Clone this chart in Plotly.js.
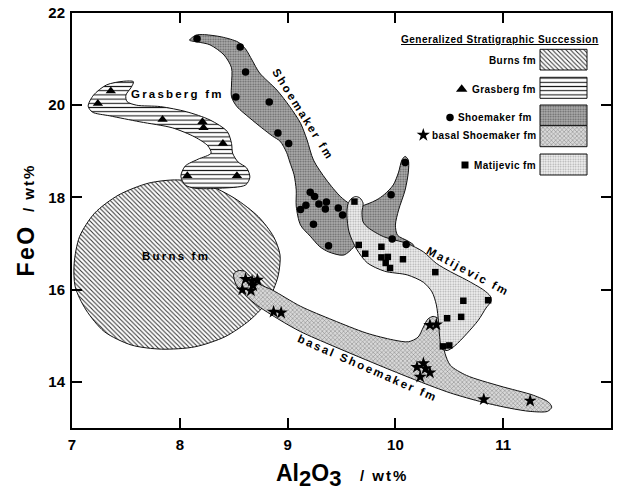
<!DOCTYPE html>
<html><head><meta charset="utf-8">
<script src="https://cdn.plot.ly/plotly-3.0.1.min.js"></script>
<style>html,body{margin:0;padding:0;background:#fff;}#chart{width:618px;height:493px;}</style>
</head><body><div id="chart"></div>
<script>
// ---------------- data (Al2O3 wt%, FeO wt%) ----------------
// field outlines
const burnsX = [7.98, 8.26, 8.51, 8.73, 8.87, 8.93, 8.91, 8.82, 8.65, 8.42, 8.14, 7.83, 7.55, 7.30, 7.13, 7.03, 7.02, 7.07, 7.21, 7.43, 7.71];
const burnsY = [18.38, 18.27, 17.98, 17.58, 17.15, 16.75, 16.28, 15.77, 15.34, 14.98, 14.76, 14.71, 14.80, 15.09, 15.56, 16.06, 16.57, 17.15, 17.66, 18.05, 18.31];

const grasbergX = [7.15, 7.20, 7.32, 7.48, 7.57, 7.55, 7.50, 7.51, 7.60, 7.82, 8.06, 8.28, 8.44, 8.48, 8.49, 8.54, 8.62, 8.65, 8.61, 8.37, 8.14, 8.05, 8.01, 8.05, 8.17, 8.29, 8.26, 8.14, 7.93, 7.63, 7.35, 7.19];
const grasbergY = [19.98, 20.22, 20.44, 20.52, 20.51, 20.39, 20.22, 20.08, 20.00, 19.97, 19.86, 19.68, 19.43, 19.17, 18.96, 18.77, 18.64, 18.44, 18.27, 18.20, 18.20, 18.27, 18.46, 18.68, 18.83, 18.96, 19.12, 19.31, 19.51, 19.64, 19.77, 19.85];

const shoemakerX = [8.11, 8.15, 8.23, 8.39, 8.54, 8.61, 8.67, 8.74, 8.90, 9.02, 9.12, 9.18, 9.24, 9.36, 9.49, 9.58, 9.67, 9.82, 9.90, 9.98, 10.03, 10.06, 10.09, 10.12, 10.12, 10.09, 10.03, 10.00, 10.02, 10.12, 10.17, 10.12, 10.01, 9.86, 9.71, 9.63, 9.52, 9.38, 9.30, 9.21, 9.12, 9.08, 9.08, 9.06, 9.02, 8.99, 8.93, 8.86, 8.76, 8.65, 8.53, 8.48, 8.48, 8.48, 8.41, 8.28, 8.17, 8.09];
const shoemakerY = [21.46, 21.52, 21.53, 21.48, 21.37, 21.22, 20.98, 20.70, 20.33, 19.97, 19.61, 19.25, 18.81, 18.38, 18.02, 17.86, 17.81, 17.94, 18.07, 18.27, 18.55, 18.81, 18.89, 18.81, 18.55, 18.16, 17.73, 17.40, 17.18, 17.05, 16.96, 16.89, 16.92, 17.08, 17.29, 16.97, 16.75, 16.82, 16.93, 17.16, 17.40, 17.81, 18.16, 18.49, 18.77, 18.98, 19.22, 19.33, 19.51, 19.72, 19.97, 20.18, 20.46, 20.81, 21.09, 21.31, 21.37, 21.41];

const matijevicX = [9.63, 9.67, 9.70, 9.69, 9.70, 9.75, 9.89, 10.11, 10.26, 10.38, 10.51, 10.66, 10.82, 10.88, 10.89, 10.84, 10.77, 10.66, 10.55, 10.48, 10.43, 10.41, 10.40, 10.38, 10.34, 10.26, 10.11, 9.90, 9.74, 9.64, 9.57, 9.55, 9.56, 9.59];
const matijevicY = [18.02, 17.99, 17.88, 17.68, 17.47, 17.34, 17.15, 17.00, 16.82, 16.57, 16.39, 16.21, 15.99, 15.86, 15.76, 15.60, 15.34, 15.04, 14.78, 14.68, 14.72, 14.99, 15.30, 15.67, 15.95, 16.16, 16.32, 16.40, 16.58, 16.88, 17.25, 17.62, 17.86, 17.97];

const basalX = [8.50, 8.54, 8.60, 8.65, 8.74, 8.86, 9.12, 9.42, 9.73, 9.98, 10.12, 10.21, 10.26, 10.30, 10.35, 10.40, 10.42, 10.44, 10.46, 10.51, 10.66, 10.97, 11.28, 11.42, 11.45, 11.41, 11.25, 11.06, 10.81, 10.51, 10.21, 9.89, 9.42, 9.12, 8.93, 8.70, 8.58, 8.52];
const basalY = [16.34, 16.41, 16.40, 16.29, 16.12, 15.99, 15.64, 15.34, 15.06, 14.91, 14.87, 14.97, 15.19, 15.36, 15.42, 15.37, 15.21, 14.91, 14.62, 14.36, 14.14, 13.91, 13.71, 13.56, 13.45, 13.36, 13.36, 13.43, 13.56, 13.76, 14.02, 14.32, 14.78, 15.09, 15.34, 15.69, 15.95, 16.12];

// analyses
const grasbergPtsX = [7.36, 7.24, 7.84, 8.21, 8.22, 8.40, 8.07, 8.53];
const grasbergPtsY = [20.31, 20.04, 19.69, 19.64, 19.51, 19.17, 18.47, 18.47];

const shoemakerPtsX = [8.16, 8.56, 8.61, 8.52, 8.83, 8.91, 9.01, 9.21, 9.25, 9.17, 9.12, 9.29, 9.36, 9.35, 9.47, 9.51, 9.24, 9.38, 9.96, 10.09, 9.97, 10.10];
const shoemakerPtsY = [21.44, 21.26, 20.72, 20.18, 20.07, 19.40, 19.17, 18.11, 18.02, 17.83, 17.74, 17.86, 17.90, 17.75, 17.77, 17.62, 17.42, 16.95, 18.06, 18.76, 17.10, 16.98];

const matijevicPtsX = [9.62, 9.66, 9.72, 9.87, 9.87, 9.93, 9.91, 9.95, 10.07, 10.37, 10.63, 10.86, 10.48, 10.61, 10.44, 10.50];
const matijevicPtsY = [17.91, 16.97, 16.78, 16.93, 16.70, 16.71, 16.58, 16.47, 16.66, 16.38, 15.76, 15.77, 15.38, 15.41, 14.77, 14.79];

const basalPtsX = [8.61, 8.67, 8.72, 8.58, 8.66, 8.68, 8.87, 8.94, 10.32, 10.38, 10.20, 10.26, 10.32, 10.23, 10.28, 10.82, 11.25];
const basalPtsY = [16.23, 16.19, 16.21, 16.00, 15.98, 16.09, 15.52, 15.50, 15.23, 15.24, 14.32, 14.40, 14.20, 14.11, 14.29, 13.62, 13.59];

const xTicks = [7, 8, 9, 10, 11, 12];
const yTicks = [14, 16, 18, 20, 22];

// ---------------- styles ----------------
const FONT = 'Liberation Sans, Arial, Helvetica, sans-serif';
const PAT = {
  burns:     {shape: '\\', bgcolor: '#ffffff', fgcolor: '#333333', size: 3.2, solidity: 0.33},
  grasberg:  {shape: '-',  bgcolor: '#ffffff', fgcolor: '#1a1a1a', size: 4.2, solidity: 0.26},
  shoemaker: {shape: '.',  bgcolor: '#b0b0b0', fgcolor: '#606060', size: 2.5, solidity: 0.4},
  basal:     {shape: 'x',  bgcolor: '#d8d8d8', fgcolor: '#808080', size: 3,   solidity: 0.3},
  matijevic: {shape: '.',  bgcolor: '#f2f2f2', fgcolor: '#a8a8a8', size: 2.5, solidity: 0.35}
};

function closed(a) { return a.concat([a[0]]); }
function field(xs, ys, pat) {
  return {type: 'scatter', mode: 'lines', x: closed(xs), y: closed(ys), fill: 'toself',
    fillpattern: Object.assign({fillmode: 'replace'}, pat), fillcolor: pat.bgcolor,
    line: {color: '#111', width: 1, shape: 'spline', smoothing: 0.8}, hoverinfo: 'skip'};
}
function pts(xs, ys, symbol, size) {
  return {type: 'scatter', mode: 'markers', x: xs, y: ys,
    marker: {symbol: symbol, size: size, color: '#000', line: {width: 0}}};
}

const traces = [
  field(burnsX, burnsY, PAT.burns),
  field(grasbergX, grasbergY, PAT.grasberg),
  field(basalX, basalY, PAT.basal),
  field(shoemakerX, shoemakerY, PAT.shoemaker),
  field(matijevicX, matijevicY, PAT.matijevic),
  pts(grasbergPtsX, grasbergPtsY, 'triangle-up', 9),
  pts(shoemakerPtsX, shoemakerPtsY, 'circle', 7.5),
  pts(matijevicPtsX, matijevicPtsY, 'square', 6.5),
  pts(basalPtsX, basalPtsY, 'star', 10)
];

// ---------------- legend box (pixel overlay axes) ----------------
const LEG = {x0: 540, x1: 587, labelX: 537.5, rows: [
  {name: 'Burns fm',           pat: PAT.burns,     y0: 49.3,  y1: 70,    ty: 60.7},
  {name: 'Grasberg fm',        pat: PAT.grasberg,  y0: 77.3,  y1: 98.3,  ty: 89.3,  sym: 'triangle-up', sx: 461.7, ss: 10},
  {name: 'Shoemaker fm',       pat: PAT.shoemaker, y0: 105,   y1: 125.7, ty: 117.6, sym: 'circle', sx: 450, ss: 7.5, tx: 533.5},
  {name: 'basal Shoemaker fm', pat: PAT.basal,     y0: 125.7, y1: 146.7, ty: 135,   sym: 'star', sx: 423.3, ss: 10},
  {name: 'Matijevic fm',       pat: PAT.matijevic, y0: 154,   y1: 175,   ty: 165,   sym: 'square', sx: 465, ss: 7}
]};
LEG.rows.forEach(r => {
  traces.push({type: 'scatter', mode: 'lines', xaxis: 'x2', yaxis: 'y2',
    x: [LEG.x0, LEG.x1, LEG.x1, LEG.x0, LEG.x0], y: [r.y0, r.y0, r.y1, r.y1, r.y0],
    fill: 'toself', fillpattern: Object.assign({fillmode: 'replace'}, r.pat), fillcolor: r.pat.bgcolor,
    line: {color: '#111', width: 1}, hoverinfo: 'skip'});
  if (r.sym) traces.push({type: 'scatter', mode: 'markers', xaxis: 'x2', yaxis: 'y2',
    x: [r.sx], y: [r.ty], marker: {symbol: r.sym, size: r.ss, color: '#000'}, hoverinfo: 'skip'});
});

const annotations = [];
function lab(text, x, y, angle) {
  annotations.push({xref: 'x', yref: 'y', x: x, y: y, showarrow: false, textangle: angle || 0,
    xanchor: 'center', yanchor: 'middle',
    text: '<span style="letter-spacing:2.2px">' + text + '</span>',
    font: {family: FONT, size: 11.5, weight: 'bold', color: '#000'}});
}
lab('Burns fm', 7.965, 16.73, 0);
lab('Grasberg fm', 7.98, 20.24, 0);
lab('Shoemaker fm', 9.14, 19.80, 58);
lab('Matijevic fm', 10.67, 16.40, 28);
lab('basal Shoemaker fm', 9.74, 14.30, 23.5);

LEG.rows.forEach(r => {
  annotations.push({xref: 'x2', yref: 'y2', x: r.tx || LEG.labelX, y: r.ty, showarrow: false,
    xanchor: 'right', yanchor: 'middle',
    text: '<span style="letter-spacing:0.4px">' + r.name + '</span>',
    font: {family: FONT, size: 10, weight: 'bold', color: '#000'}});
});
annotations.push({xref: 'x2', yref: 'y2', x: 500, y: 39, showarrow: false, xanchor: 'center', yanchor: 'middle',
  text: '<span style="letter-spacing:0.5px">Generalized Stratigraphic Succession</span>',
  font: {family: FONT, size: 10, weight: 'bold', color: '#000', lineposition: 'under'}});

// axis titles
annotations.push({xref: 'paper', yref: 'paper', x: 0.5, y: -0.115, showarrow: false,
  xanchor: 'center', yanchor: 'middle',
  text: 'Al<sub><span style="font-size:22px">2</span></sub>O<sub><span style="font-size:22px">3</span></sub>' +
        '<span style="font-size:15px;letter-spacing:2px">   / wt%</span>',
  font: {family: FONT, size: 23, weight: 'bold', color: '#000'}});
annotations.push({xref: 'paper', yref: 'paper', x: -0.087, y: 0.5, showarrow: false, textangle: -90,
  xanchor: 'center', yanchor: 'middle',
  text: '<span style="letter-spacing:2.5px">FeO</span><span style="font-size:15px;letter-spacing:2px">  / wt%</span>',
  font: {family: FONT, size: 23, weight: 'bold', color: '#000'}});

const axisCommon = {ticks: 'inside', ticklen: 10, tickwidth: 2, tickcolor: '#000', showline: true,
  linewidth: 2, linecolor: '#000', mirror: 'ticks', showgrid: false, zeroline: false,
  tickfont: {family: FONT, size: 15, weight: 'bold', color: '#000'}};

const layout = {
  width: 618, height: 493,
  margin: {l: 72, r: 7, t: 13, b: 65, pad: 0},
  paper_bgcolor: '#fff', plot_bgcolor: '#fff',
  showlegend: false,
  xaxis: Object.assign({}, axisCommon, {range: [7, 12], tickvals: xTicks, ticktext: xTicks.map(String), ticklabelstandoff: 2}),
  yaxis: Object.assign({}, axisCommon, {range: [13, 22], tickvals: yTicks, ticktext: yTicks.map(String), ticklabelstandoff: 2}),
  xaxis2: {overlaying: 'x', anchor: 'y2', range: [72, 611], visible: false, fixedrange: true},
  yaxis2: {overlaying: 'y', anchor: 'x2', range: [428, 13], visible: false, fixedrange: true},
  annotations: annotations
};

Plotly.newPlot('chart', traces, layout, {displayModeBar: false, staticPlot: true});
</script>
</body></html>
